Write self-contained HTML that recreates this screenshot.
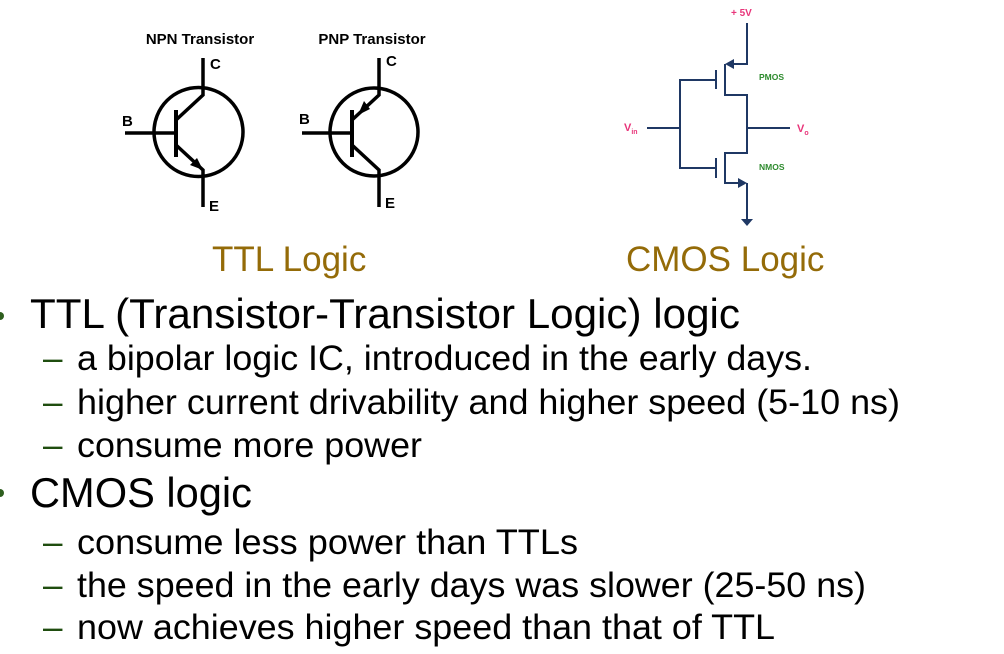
<!DOCTYPE html>
<html><head><meta charset="utf-8"><style>
html,body{margin:0;padding:0;background:#fff;}
svg{display:block;}
</style></head><body>
<svg width="1004" height="654" viewBox="0 0 1004 654" xmlns="http://www.w3.org/2000/svg" font-family="Liberation Sans, sans-serif">
<!-- NPN -->
<g stroke="#000" stroke-width="3.5" fill="none">
<circle cx="198.5" cy="132" r="44.5"/>
<line x1="125" y1="133" x2="176" y2="133"/>
<line x1="176" y1="110" x2="176" y2="157" stroke-width="4"/>
<polyline points="176,120 203,95 203,58"/>
<polyline points="176,145 203,170 203,207"/>
<!-- PNP -->
<circle cx="374" cy="132" r="44"/>
<line x1="302" y1="133" x2="352" y2="133"/>
<line x1="352" y1="110" x2="352" y2="157" stroke-width="4"/>
<polyline points="352,120 379,95 379,58"/>
<polyline points="352,145 379,170 379,207"/>
</g>
<polygon points="203,170 190,165 197,158" fill="#000"/>
<polygon points="358,115 370,109 364,101" fill="#000"/>
<g font-weight="bold" font-size="15" fill="#000">
<text x="200" y="44" text-anchor="middle">NPN Transistor</text>
<text x="372" y="44" text-anchor="middle">PNP Transistor</text>
<text x="210" y="69">C</text><text x="209" y="211">E</text><text x="122" y="126">B</text>
<text x="386" y="66">C</text><text x="385" y="208">E</text><text x="299" y="124">B</text>
</g>
<!-- CMOS -->
<g stroke="#1f3864" stroke-width="2" fill="none">
<polyline points="747,23 747,64 733,64"/>
<polyline points="725,64 725,95 747,95 747,153 725,153 725,183 740,183"/>
<polyline points="747,183 747,220"/>
<line x1="716" y1="70" x2="716" y2="89"/>
<line x1="716" y1="158" x2="716" y2="178"/>
<polyline points="716,80 680,80 680,168 716,168"/>
<line x1="647" y1="128" x2="680" y2="128"/>
<line x1="747" y1="128" x2="790" y2="128"/>
</g>
<g fill="#1f3864">
<polygon points="725,64 734,59 734,69"/>
<polygon points="747,183 738,178 738,188"/>
<polygon points="741,219 753,219 747,226"/>
</g>
<g fill="#e8357a" font-size="10" font-weight="bold">
<text x="731" y="16">+ 5V</text>
<text x="624" y="131" font-size="11">V<tspan font-size="7" dy="3">in</tspan></text>
<text x="797" y="132" font-size="11">V<tspan font-size="7" dy="3">o</tspan></text>
</g>
<g fill="#2e8b2e" font-size="8.5" font-weight="bold">
<text x="759" y="80">PMOS</text>
<text x="759" y="170">NMOS</text>
</g>
<g fill="#946b08" font-size="35">
<text x="212" y="271">TTL Logic</text>
<text x="626" y="271">CMOS Logic</text>
</g>
<g fill="#2e5e1e">
<circle cx="0" cy="316" r="4"/>
<circle cx="0" cy="493" r="4"/>
</g>
<g fill="#000" font-size="42">
<text x="30" y="328" textLength="710" lengthAdjust="spacingAndGlyphs">TTL (Transistor-Transistor Logic) logic</text>
<text x="30" y="507" textLength="222" lengthAdjust="spacingAndGlyphs">CMOS logic</text>
</g>
<g font-size="35" fill="#000">
<g fill="#1f4d0f"><text x="43" y="370">–</text><text x="43" y="414">–</text><text x="43" y="457">–</text><text x="43" y="554">–</text><text x="43" y="597">–</text><text x="43" y="639">–</text></g>
<text x="77" y="370" textLength="735" lengthAdjust="spacingAndGlyphs">a bipolar logic IC, introduced in the early days.</text>
<text x="77" y="414" textLength="823" lengthAdjust="spacingAndGlyphs">higher current drivability and higher speed (5-10 ns)</text>
<text x="77" y="457" textLength="345" lengthAdjust="spacingAndGlyphs">consume more power</text>
<text x="77" y="554" textLength="501" lengthAdjust="spacingAndGlyphs">consume less power than TTLs</text>
<text x="77" y="597" textLength="789" lengthAdjust="spacingAndGlyphs">the speed in the early days was slower (25-50 ns)</text>
<text x="77" y="639" textLength="698" lengthAdjust="spacingAndGlyphs">now achieves higher speed than that of TTL</text>
</g>
</svg>
</body></html>
